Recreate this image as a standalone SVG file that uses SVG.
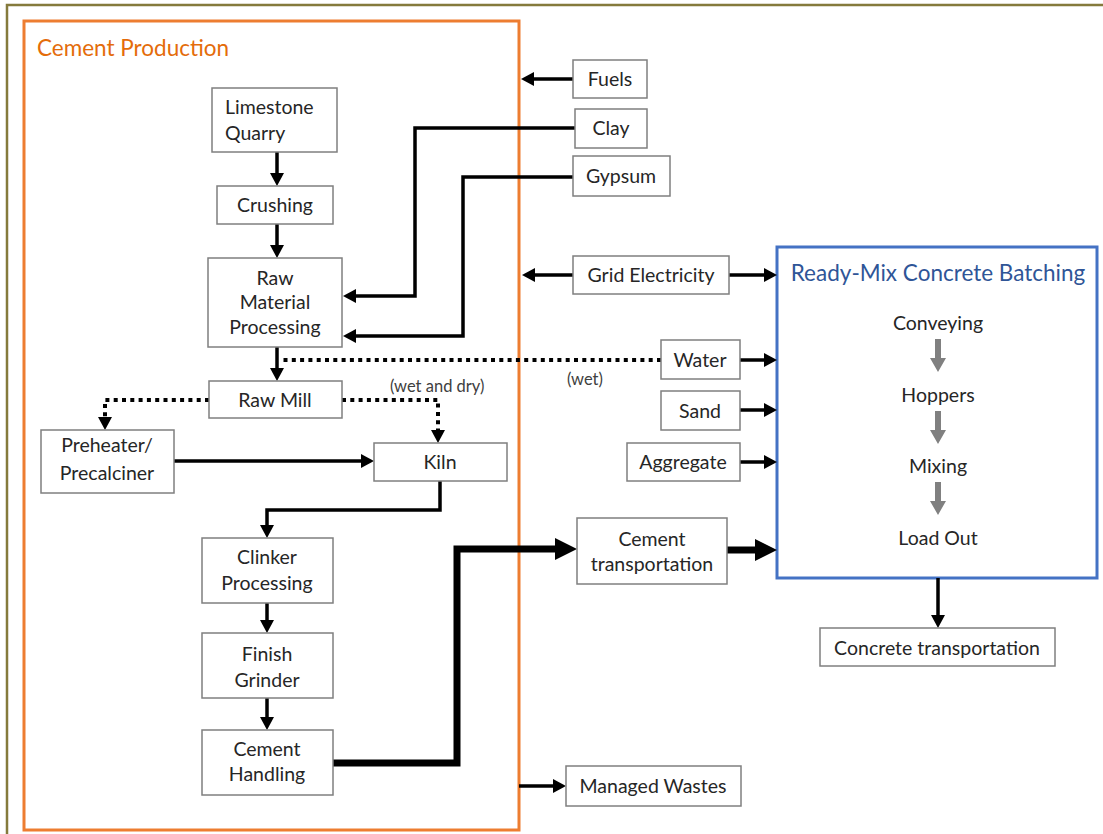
<svg xmlns="http://www.w3.org/2000/svg" width="1103" height="834" viewBox="0 0 1103 834">
  <style>
    .box { fill: #ffffff; stroke: #7f7f7f; stroke-width: 1.5; }
    .t { font-family: Lato, "Open Sans", "Liberation Sans", sans-serif; font-size: 19.5px; fill: #262626; text-anchor: middle; }
    .small { font-family: Lato, "Open Sans", "Liberation Sans", sans-serif; font-size: 16.5px; fill: #404040; }
    .c { fill: none; stroke: #000000; stroke-width: 3.5; }
    .thick { fill: none; stroke: #000000; stroke-width: 7; }
    .dot { fill: none; stroke: #000000; stroke-width: 4; stroke-dasharray: 4 4.3; }
    .garrow { fill: #808080; }
  </style>
  <defs>
    <marker id="ah" markerUnits="userSpaceOnUse" markerWidth="15" markerHeight="15" refX="2" refY="7" orient="auto">
      <path d="M0,0 L13,7 L0,14 z" fill="#000"/>
    </marker>
    <marker id="ahBig" markerUnits="userSpaceOnUse" markerWidth="24" markerHeight="24" refX="4" refY="11" orient="auto">
      <path d="M0,0 L22,11 L0,22 z" fill="#000"/>
    </marker>
  </defs>
  <rect x="0" y="0" width="1103" height="834" fill="#ffffff"/>
  <!-- outer frame -->
  <path d="M7,840 L7,5 L1110,5" fill="none" stroke="#857A3C" stroke-width="2.5"/>

  <!-- containers -->
  <g id="cement-production">
    <rect x="24" y="21" width="495" height="809" fill="none" stroke="#ED7D31" stroke-width="3"/>
    <text x="37" y="56" font-family="Lato, 'Open Sans', 'Liberation Sans', sans-serif" font-size="22.5" fill="#E46C0A">Cement Production</text>
  </g>
  <g id="ready-mix">
    <rect x="777" y="247" width="320" height="331" fill="none" stroke="#4472C4" stroke-width="3"/>
    <text x="938" y="281" font-family="Lato, 'Open Sans', 'Liberation Sans', sans-serif" font-size="22.5" fill="#2F5597" text-anchor="middle">Ready-Mix Concrete Batching</text>
    <text class="t" x="938" y="330">Conveying</text>
    <text class="t" x="938" y="402">Hoppers</text>
    <text class="t" x="938" y="473">Mixing</text>
    <text class="t" x="938" y="545">Load Out</text>
    <path class="garrow" d="M935,339 L941,339 L941,358 L946,358 L938,372 L930,358 L935,358 z"/>
    <path class="garrow" d="M935,411 L941,411 L941,430 L946,430 L938,444 L930,430 L935,430 z"/>
    <path class="garrow" d="M935,482 L941,482 L941,501 L946,501 L938,515 L930,501 L935,501 z"/>
  </g>

  <!-- connectors -->
  <g id="connectors">
    <path class="c" d="M573,79 L532,79" marker-end="url(#ah)"/>
    <path class="c" d="M575,128 L415,128 L415,296 L354,296" marker-end="url(#ah)"/>
    <path class="c" d="M573,177 L463,177 L463,336 L354,336" marker-end="url(#ah)"/>
    <path class="c" d="M573,275 L533,275" marker-end="url(#ah)"/>
    <path class="c" d="M729,275 L766,275" marker-end="url(#ah)"/>
    <path class="c" d="M277,152 L277,175" marker-end="url(#ah)"/>
    <path class="c" d="M277,224 L277,247" marker-end="url(#ah)"/>
    <path class="c" d="M277,347 L277,370" marker-end="url(#ah)"/>
    <path class="dot" d="M661,360 L282,360"/>
    <path class="dot" d="M209,400 L105,400 L105,419" marker-end="url(#ah)"/>
    <path class="dot" d="M342,400 L438,400 L438,432" marker-end="url(#ah)"/>
    <path class="c" d="M174,461 L363,461" marker-end="url(#ah)"/>
    <path class="c" d="M440,481 L440,510 L267,510 L267,527" marker-end="url(#ah)"/>
    <path class="c" d="M267,603 L267,622" marker-end="url(#ah)"/>
    <path class="c" d="M267,698 L267,719" marker-end="url(#ah)"/>
    <path class="thick" d="M333,763 L457,763 L457,549 L559,549" marker-end="url(#ahBig)"/>
    <path class="thick" d="M727,550 L759,550" marker-end="url(#ahBig)"/>
    <path class="c" d="M740,360 L766,360" marker-end="url(#ah)"/>
    <path class="c" d="M740,410 L766,410" marker-end="url(#ah)"/>
    <path class="c" d="M740,462 L766,462" marker-end="url(#ah)"/>
    <path class="c" d="M938,578 L938,617" marker-end="url(#ah)"/>
    <path class="c" d="M519,786 L555,786" marker-end="url(#ah)"/>
    <text class="small" x="567" y="385">(wet)</text>
    <text class="small" x="390" y="392">(wet and dry)</text>
  </g>

  <!-- nodes -->
  <g id="limestone-quarry">
    <rect class="box" x="212" y="88" width="125" height="64"/>
    <text class="t" x="225" y="114" style="text-anchor:start">Limestone</text>
    <text class="t" x="225" y="140" style="text-anchor:start">Quarry</text>
  </g>
  <g id="crushing">
    <rect class="box" x="217" y="186" width="116" height="38"/>
    <text class="t" x="275" y="212">Crushing</text>
  </g>
  <g id="raw-material-processing">
    <rect class="box" x="208" y="258" width="134" height="89"/>
    <text class="t" x="275" y="285">Raw</text>
    <text class="t" x="275" y="309">Material</text>
    <text class="t" x="275" y="334">Processing</text>
  </g>
  <g id="raw-mill">
    <rect class="box" x="209" y="381" width="133" height="37"/>
    <text class="t" x="275" y="407">Raw Mill</text>
  </g>
  <g id="preheater">
    <rect class="box" x="41" y="430" width="133" height="63"/>
    <text class="t" x="107" y="452">Preheater/</text>
    <text class="t" x="107" y="480">Precalciner</text>
  </g>
  <g id="kiln">
    <rect class="box" x="374" y="443" width="133" height="38"/>
    <text class="t" x="440" y="469">Kiln</text>
  </g>
  <g id="clinker-processing">
    <rect class="box" x="202" y="538" width="131" height="65"/>
    <text class="t" x="267" y="564">Clinker</text>
    <text class="t" x="267" y="590">Processing</text>
  </g>
  <g id="finish-grinder">
    <rect class="box" x="202" y="633" width="131" height="65"/>
    <text class="t" x="267" y="661">Finish</text>
    <text class="t" x="267" y="687">Grinder</text>
  </g>
  <g id="cement-handling">
    <rect class="box" x="202" y="730" width="131" height="65"/>
    <text class="t" x="267" y="756">Cement</text>
    <text class="t" x="267" y="781">Handling</text>
  </g>
  <g id="fuels">
    <rect class="box" x="573" y="60" width="74" height="38"/>
    <text class="t" x="610" y="86">Fuels</text>
  </g>
  <g id="clay">
    <rect class="box" x="575" y="109" width="72" height="39"/>
    <text class="t" x="611" y="135">Clay</text>
  </g>
  <g id="gypsum">
    <rect class="box" x="573" y="156" width="97" height="40"/>
    <text class="t" x="621" y="183">Gypsum</text>
  </g>
  <g id="grid-electricity">
    <rect class="box" x="573" y="256" width="156" height="38"/>
    <text class="t" x="651" y="282">Grid Electricity</text>
  </g>
  <g id="water">
    <rect class="box" x="661" y="340" width="79" height="39"/>
    <text class="t" x="700" y="367">Water</text>
  </g>
  <g id="sand">
    <rect class="box" x="661" y="391" width="79" height="39"/>
    <text class="t" x="700" y="418">Sand</text>
  </g>
  <g id="aggregate">
    <rect class="box" x="627" y="443" width="113" height="38"/>
    <text class="t" x="683" y="469">Aggregate</text>
  </g>
  <g id="cement-transportation">
    <rect class="box" x="577" y="518" width="150" height="66"/>
    <text class="t" x="652" y="546">Cement</text>
    <text class="t" x="652" y="571">transportation</text>
  </g>
  <g id="managed-wastes">
    <rect class="box" x="566" y="766" width="175" height="40"/>
    <text class="t" x="653" y="793">Managed Wastes</text>
  </g>
  <g id="concrete-transportation">
    <rect class="box" x="820" y="628" width="235" height="38"/>
    <text class="t" x="937" y="655">Concrete transportation</text>
  </g>
</svg>
